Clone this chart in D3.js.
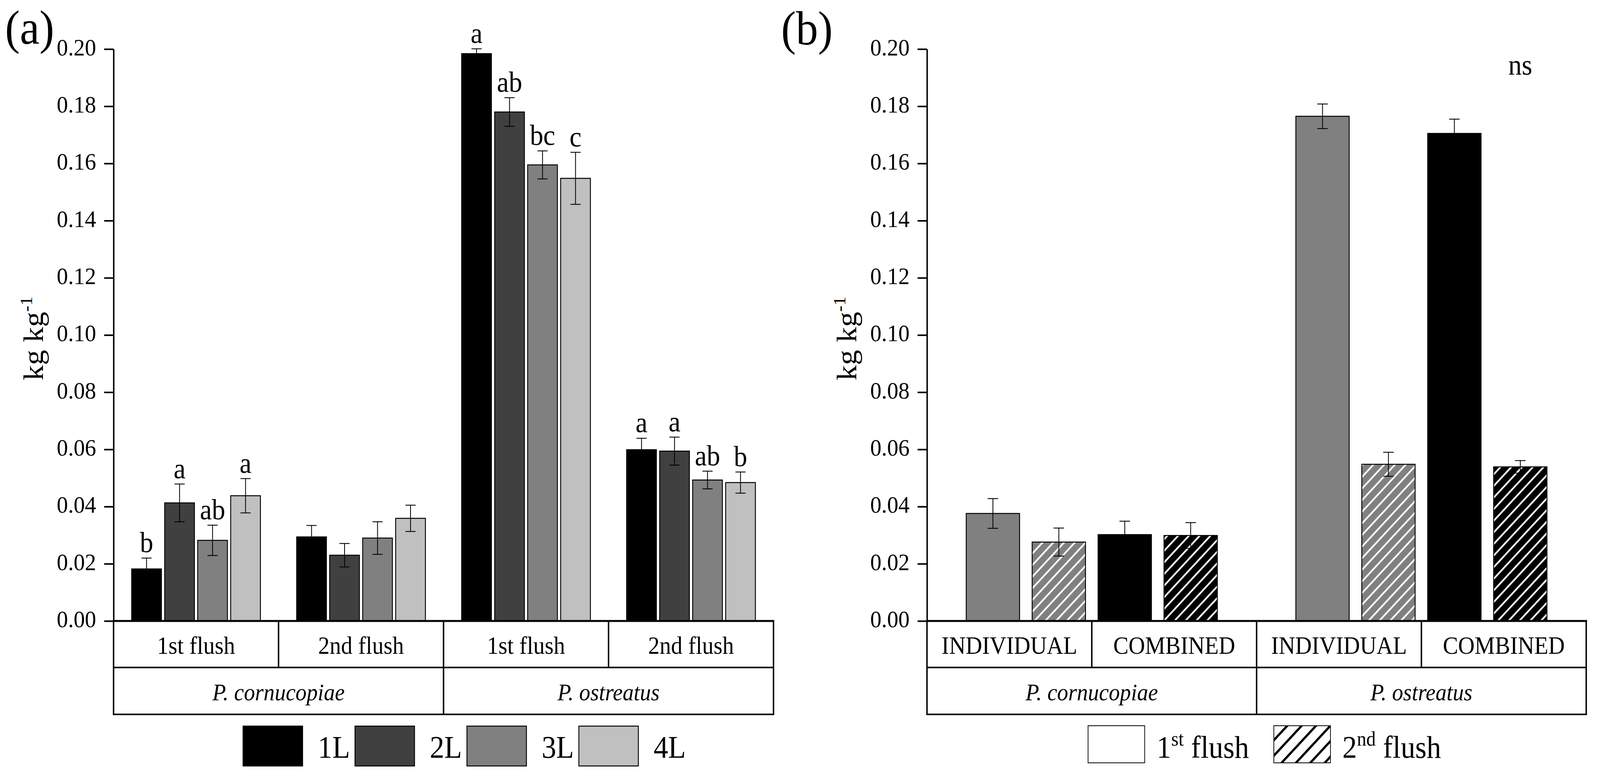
<!DOCTYPE html>
<html>
<head>
<meta charset="utf-8">
<script src="https://cdn.jsdelivr.net/npm/d3@7/dist/d3.min.js"></script>
<style>
  html, body { margin: 0; padding: 0; background: #fff; overflow: hidden; width: 100%; height: 100%; }
  svg { display: block; width: 100vw; height: 100vh; }
  text { font-family: "Liberation Serif", "Times New Roman", serif; fill: #000; }
</style>
</head>
<body>
<script>
// ---------------- DATA ----------------
const species = ["P. cornucopiae", "P. ostreatus"];
const flushes = ["1st flush", "2nd flush"];
const layers = ["1L", "2L", "3L", "4L"];
const layerColors = ["#000000", "#404040", "#808080", "#c0c0c0"];
const yTickValues = [0, 0.02, 0.04, 0.06, 0.08, 0.10, 0.12, 0.14, 0.16, 0.18, 0.20];
const yMinorValues = [0.01, 0.03, 0.05, 0.07, 0.09, 0.11, 0.13, 0.15, 0.17, 0.19];

// Panel (a): groups in order P.c 1st, P.c 2nd, P.o 1st, P.o 2nd ; values per layer 1L..4L
const aCorn1st = [0.0182, 0.0413, 0.0282, 0.0438];
const aCorn2nd = [0.0294, 0.0230, 0.0290, 0.0359];
const aOst1st  = [0.1984, 0.1780, 0.1595, 0.1548];
const aOst2nd  = [0.0599, 0.0594, 0.0493, 0.0484];
const aCorn1stErr = [0.0038, 0.0066, 0.0053, 0.0060];
const aCorn2ndErr = [0.0040, 0.0041, 0.0057, 0.0046];
const aOst1stErr  = [0.0017, 0.0050, 0.0049, 0.0091];
const aOst2ndErr  = [0.0040, 0.0049, 0.0031, 0.0037];
const aCorn1stSig = ["b", "a", "ab", "a"];
const aCorn2ndSig = ["", "", "", ""];
const aOst1stSig  = ["a", "ab", "bc", "c"];
const aOst2ndSig  = ["a", "a", "ab", "b"];

// Panel (b): treatments INDIVIDUAL, COMBINED
const treatments = ["INDIVIDUAL", "COMBINED"];
const flushLegend = [["1", "st", " flush"], ["2", "nd", " flush"]];
const bCorn1st = [0.0376, 0.0302];
const bCorn2nd = [0.0276, 0.0299];
const bOst1st  = [0.1765, 0.1705];
const bOst2nd  = [0.0548, 0.0539];
const bCorn1stErr = [0.0052, 0.0047];
const bCorn2ndErr = [0.0049, 0.0045];
const bOst1stErr  = [0.0043, 0.0050];
const bOst2ndErr  = [0.0042, 0.0022];
const treatmentColors = ["#808080", "#000000"];
const nsLabel = "ns";

// ---------------- LAYOUT ----------------
const W = 4410, H = 1978;
const yBase = 1589, yTopPx = 125.6, rowMid = 1708, rowBot = 1828;
const FS_TICK = 62, FS_CAT = 63, FS_SIG = 74, FS_LEG = 80, FS_YLAB = 78, FS_PANEL = 122;

const svg = d3.select("body").append("svg")
  .attr("viewBox", `0 0 ${W} ${H}`)
  .attr("preserveAspectRatio", "none");
svg.append("rect").attr("width", W).attr("height", H).attr("fill", "#fff");

const defs = svg.append("defs");
// white hatch for bars
const pBar = defs.append("pattern").attr("id", "hatchWhite")
  .attr("patternUnits", "userSpaceOnUse").attr("width", 21).attr("height", 21)
  .attr("patternTransform", "rotate(45)");
pBar.append("line").attr("x1", 10.5).attr("x2", 10.5).attr("y1", -2).attr("y2", 23)
  .attr("stroke", "#fff").attr("stroke-width", 4.5);
// black hatch for legend
const pLeg = defs.append("pattern").attr("id", "hatchBlack")
  .attr("patternUnits", "userSpaceOnUse").attr("width", 28).attr("height", 28)
  .attr("patternTransform", "rotate(45)");
pLeg.append("line").attr("x1", 14).attr("x2", 14).attr("y1", -2).attr("y2", 30)
  .attr("stroke", "#000").attr("stroke-width", 6);

const y = d3.scaleLinear().domain([0, 0.2]).range([yBase, yTopPx]);

function drawYAxis(g, axisX, labelX, panelLabel, panelX, panelY) {
  const ax = g.append("g").attr("transform", `translate(${axisX},0)`);
  ax.call(d3.axisLeft(y).tickValues(yMinorValues).tickSize(13).tickSizeOuter(0).tickFormat(""));
  ax.call(d3.axisLeft(y).tickValues(yTickValues).tickSize(26).tickSizeOuter(0)
    .tickPadding(22).tickFormat(d3.format(".2f")));
  ax.selectAll("path.domain").attr("stroke", "#000").attr("stroke-width", 4);
  ax.selectAll(".tick line").attr("stroke", "#000").attr("stroke-width", 4);
  ax.selectAll(".tick text").attr("font-size", FS_TICK)
    .attr("font-family", "Liberation Serif").attr("dy", "0.25em");
  // y label
  const t = g.append("text")
    .attr("transform", `translate(${labelX},866) rotate(-90)`)
    .attr("text-anchor", "middle").attr("font-size", FS_YLAB);
  t.append("tspan").text("kg kg");
  t.append("tspan").attr("font-size", 47).attr("dy", -30).text("-1");
  // panel label
  g.append("text").attr("x", panelX).attr("y", panelY)
    .attr("font-size", FS_PANEL).text(panelLabel);
}

function drawBox(g, x, bounds, sub, bottomBounds, speciesLabels) {
  const x0 = x(bounds[0]), x1 = x(bounds[bounds.length - 1]);
  g.append("rect").attr("x", x0).attr("y", yBase).attr("width", x1 - x0)
    .attr("height", rowBot - yBase).attr("fill", "none")
    .attr("stroke", "#000").attr("stroke-width", 4);
  g.append("line").attr("x1", x0).attr("x2", x1).attr("y1", rowMid).attr("y2", rowMid)
    .attr("stroke", "#000").attr("stroke-width", 4);
  bounds.slice(1, -1).forEach(b => {
    g.append("line").attr("x1", x(b)).attr("x2", x(b)).attr("y1", yBase).attr("y2", rowMid)
      .attr("stroke", "#000").attr("stroke-width", 4);
  });
  bottomBounds.slice(1, -1).forEach(b => {
    g.append("line").attr("x1", x(b)).attr("x2", x(b)).attr("y1", rowMid).attr("y2", rowBot)
      .attr("stroke", "#000").attr("stroke-width", 4);
  });
  sub.forEach((s, i) => {
    g.append("text").attr("x", (x(bounds[i]) + x(bounds[i + 1])) / 2).attr("y", 1673)
      .attr("text-anchor", "middle").attr("font-size", FS_CAT).text(s);
  });
  speciesLabels.forEach((s, i) => {
    g.append("text").attr("x", (x(bottomBounds[i]) + x(bottomBounds[i + 1])) / 2).attr("y", 1792)
      .attr("text-anchor", "middle").attr("font-size", FS_CAT - 2)
      .attr("font-style", "italic").text(s);
  });
  // x-axis line on top
  g.append("line").attr("x1", x0 - 2).attr("x2", x1 + 2).attr("y1", yBase).attr("y2", yBase)
    .attr("stroke", "#000").attr("stroke-width", 5);
}

function errBar(g, cx, m, e, cap) {
  const gg = g.append("g").attr("stroke", "#000").attr("stroke-width", 2.2);
  gg.append("line").attr("x1", cx).attr("x2", cx).attr("y1", y(m - e)).attr("y2", y(m + e));
  gg.append("line").attr("x1", cx - cap / 2).attr("x2", cx + cap / 2).attr("y1", y(m + e)).attr("y2", y(m + e));
  gg.append("line").attr("x1", cx - cap / 2).attr("x2", cx + cap / 2).attr("y1", y(m - e)).attr("y2", y(m - e));
}

// ---------------- PANEL A ----------------
const gA = svg.append("g");
const xa = d3.scaleLinear().domain([-1, 19]).range([313, 2132]);
const aGroups = [
  { mean: aCorn1st, err: aCorn1stErr, sig: aCorn1stSig },
  { mean: aCorn2nd, err: aCorn2ndErr, sig: aCorn2ndSig },
  { mean: aOst1st,  err: aOst1stErr,  sig: aOst1stSig },
  { mean: aOst2nd,  err: aOst2ndErr,  sig: aOst2ndSig }
];
const bwA = 82;
const aBars = [];
aGroups.forEach((grp, gi) => grp.mean.forEach((m, si) => {
  aBars.push({ slot: gi * 5 + si, m, e: grp.err[si], sig: grp.sig[si], color: layerColors[si] });
}));
gA.selectAll("rect.bar").data(aBars).join("rect").attr("class", "bar")
  .attr("x", d => xa(d.slot) - bwA / 2).attr("width", bwA)
  .attr("y", d => y(d.m)).attr("height", d => yBase - y(d.m))
  .attr("fill", d => d.color).attr("stroke", "#000").attr("stroke-width", 2.5);
aBars.forEach(d => errBar(gA, xa(d.slot), d.m, d.e, 28));
gA.selectAll("text.sig").data(aBars.filter(d => d.sig)).join("text").attr("class", "sig")
  .attr("x", d => xa(d.slot)).attr("y", d => y(d.m + d.e) - 15)
  .attr("text-anchor", "middle").attr("font-size", FS_SIG).text(d => d.sig);

const boundsA = [-1, 4, 9, 14, 19];
drawBox(gA, xa, boundsA, [flushes[0], flushes[1], flushes[0], flushes[1]], [-1, 9, 19], species);
drawYAxis(gA, 313, 118, "(a)", 14, 112);

// legend a
const legA = gA.append("g");
layers.forEach((l, i) => {
  const lx = 670 + i * 308.5;
  legA.append("rect").attr("x", lx).attr("y", 1858).attr("width", 164).attr("height", 102)
    .attr("fill", layerColors[i]).attr("stroke", "#000").attr("stroke-width", 2.5);
  legA.append("text").attr("x", lx + 206).attr("y", 1939).attr("font-size", FS_LEG).text(l);
});

// ---------------- PANEL B ----------------
const gB = svg.append("g");
const xb = d3.scaleLinear().domain([-1, 9]).range([2555, 4372]);
const bwB = 147;
const bSeries = [
  { sp: 0, f: 0, mean: bCorn1st, err: bCorn1stErr },
  { sp: 0, f: 1, mean: bCorn2nd, err: bCorn2ndErr },
  { sp: 1, f: 0, mean: bOst1st,  err: bOst1stErr },
  { sp: 1, f: 1, mean: bOst2nd,  err: bOst2ndErr }
];
const bBars = [];
bSeries.forEach(s => s.mean.forEach((m, t) => {
  bBars.push({ slot: s.sp * 5 + t * 2 + s.f, m, e: s.err[t], f: s.f, color: treatmentColors[t] });
}));
gB.selectAll("rect.bar").data(bBars).join("rect").attr("class", "bar")
  .attr("x", d => xb(d.slot) - bwB / 2).attr("width", bwB)
  .attr("y", d => y(d.m)).attr("height", d => yBase - y(d.m))
  .attr("fill", d => d.color);
gB.selectAll("rect.hatch").data(bBars.filter(d => d.f === 1)).join("rect").attr("class", "hatch")
  .attr("x", d => xb(d.slot) - bwB / 2).attr("width", bwB)
  .attr("y", d => y(d.m)).attr("height", d => yBase - y(d.m))
  .attr("fill", "url(#hatchWhite)");
gB.selectAll("rect.outline").data(bBars).join("rect").attr("class", "outline")
  .attr("x", d => xb(d.slot) - bwB / 2).attr("width", bwB)
  .attr("y", d => y(d.m)).attr("height", d => yBase - y(d.m))
  .attr("fill", "none").attr("stroke", "#000").attr("stroke-width", 2.5);
bBars.forEach(d => errBar(gB, xb(d.slot), d.m, d.e, 29));
gB.append("text").attr("x", xb(8)).attr("y", 191).attr("text-anchor", "middle")
  .attr("font-size", FS_SIG).text(nsLabel);

const boundsB = [-1, 1.5, 4, 6.5, 9];
drawBox(gB, xb, boundsB, [treatments[0], treatments[1], treatments[0], treatments[1]], [-1, 4, 9], species);
drawYAxis(gB, 2555, 2360, "(b)", 2153, 114);

// legend b
const legB = gB.append("g");
const legBX = [2999, 3511];
flushLegend.forEach((parts, i) => {
  const lx = legBX[i];
  legB.append("rect").attr("x", lx).attr("y", 1857).attr("width", 156).attr("height", 95)
    .attr("fill", i === 0 ? "#fff" : "url(#hatchBlack)")
    .attr("stroke", "#000").attr("stroke-width", 2);
  const t = legB.append("text").attr("x", lx + 189).attr("y", 1939).attr("font-size", FS_LEG);
  t.append("tspan").text(parts[0]);
  t.append("tspan").attr("font-size", 52).attr("dy", -31).text(parts[1]);
  t.append("tspan").attr("dy", 31).text(parts[2]);
});
</script>
</body>
</html>
